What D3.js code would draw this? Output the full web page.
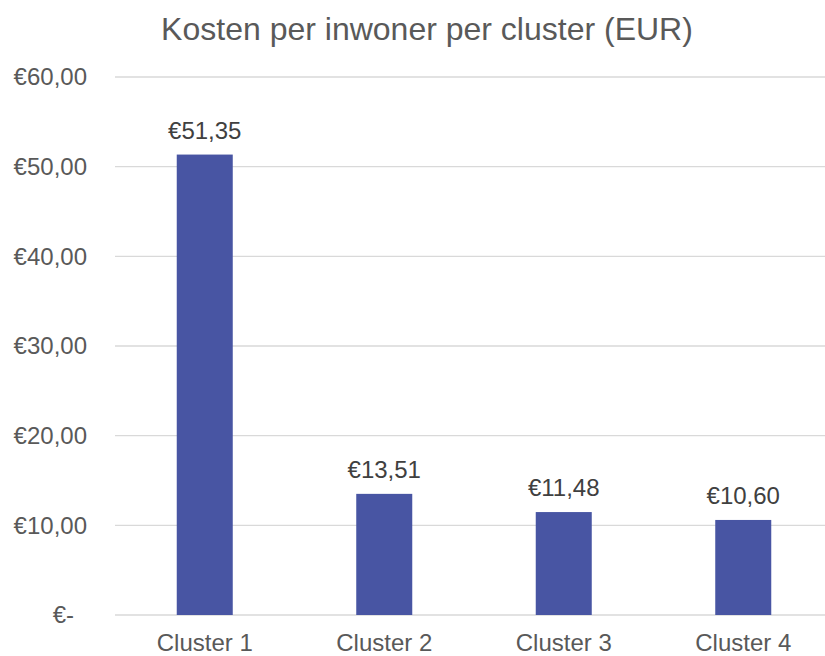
<!DOCTYPE html>
<html>
<head>
<meta charset="utf-8">
<title>Kosten per inwoner per cluster</title>
<script src="https://d3js.org/d3.v7.min.js"></script>
<style>
body { margin: 0; background: #fff; }
svg { display: block; font-family: "Liberation Sans", Arial, sans-serif; }
</style>
</head>
<body>
<div id="chart"></div>
<script type="text/javascript">
// data
var clusters = ["Cluster 1", "Cluster 2", "Cluster 3", "Cluster 4"];
var kosten = [51.35, 13.51, 11.48, 10.60];
var yTicks = [0, 10, 20, 30, 40, 50, 60];

var width = 825, height = 656;
var margin = {top: 77, right: -8, bottom: 41, left: 115};

var svg = d3.select("#chart")
  .append("svg")
    .attr("width", width)
    .attr("height", height);

// euro format with comma decimals
function euro(v) {
  if (v === 0) return "€-";
  return "€" + v.toFixed(2).replace(".", ",");
}

var x = d3.scaleBand()
    .domain(clusters)
    .range([margin.left, width - margin.right])
    .paddingInner(0.688)
    .paddingOuter(0.344);

var y = d3.scaleLinear()
    .domain([0, 60])
    .range([height - margin.bottom, margin.top]);

// gridlines
svg.append("g")
  .selectAll("line")
  .data(yTicks)
  .enter().append("line")
    .attr("x1", margin.left)
    .attr("x2", width)
    .attr("y1", function(d) { return y(d); })
    .attr("y2", function(d) { return y(d); })
    .attr("stroke", "#d9d9d9")
    .attr("stroke-width", 1.3);

// y axis labels
var yAxis = svg.append("g")
    .attr("transform", "translate(87,0)")
    .call(d3.axisLeft(y).tickValues(yTicks).tickFormat(euro).tickSize(0).tickPadding(0));
yAxis.select(".domain").remove();
yAxis.selectAll("text")
    .attr("font-size", 24)
    .attr("font-family", "Liberation Sans, Arial, sans-serif")
    .attr("fill", "#595959")
    .attr("dx", function(d) { return d === 0 ? -13 : 0; });

// x axis labels
var xAxis = svg.append("g")
    .attr("transform", "translate(0," + y(0) + ")")
    .call(d3.axisBottom(x).tickSize(0).tickPadding(18.5));
xAxis.select(".domain").remove();
xAxis.selectAll("text")
    .attr("font-size", 24)
    .attr("font-family", "Liberation Sans, Arial, sans-serif")
    .attr("fill", "#595959");

// bars
svg.append("g")
  .selectAll("rect")
  .data(kosten)
  .enter().append("rect")
    .attr("x", function(d, i) { return x(clusters[i]); })
    .attr("y", function(d) { return y(d); })
    .attr("width", x.bandwidth())
    .attr("height", function(d) { return y(0) - y(d); })
    .attr("fill", "#4855a3");

// value labels
svg.append("g")
  .selectAll("text")
  .data(kosten)
  .enter().append("text")
    .attr("x", function(d, i) { return x(clusters[i]) + x.bandwidth() / 2; })
    .attr("y", function(d) { return y(d) - 16; })
    .attr("text-anchor", "middle")
    .attr("font-size", 24)
    .attr("fill", "#404040")
    .text(euro);

// title
svg.append("text")
    .attr("x", 427)
    .attr("y", 40)
    .attr("text-anchor", "middle")
    .attr("font-size", 32)
    .attr("fill", "#595959")
    .text("Kosten per inwoner per cluster (EUR)");
</script>
</body>
</html>
